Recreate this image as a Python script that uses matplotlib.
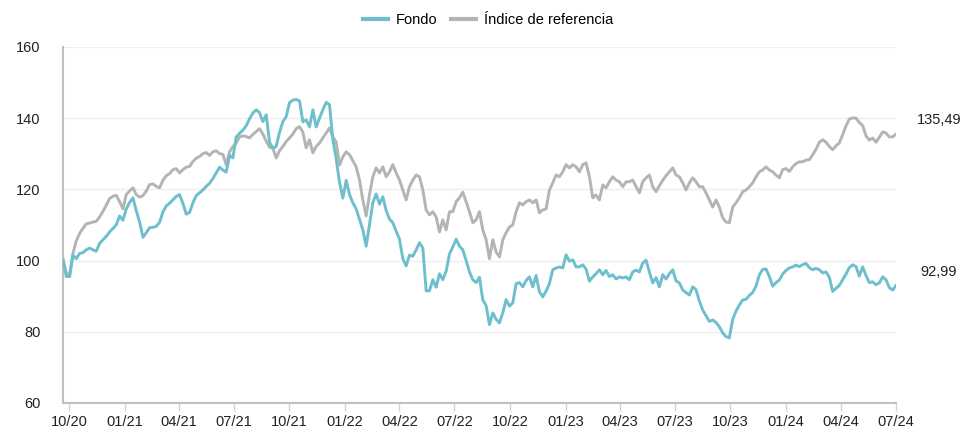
import matplotlib
matplotlib.use("Agg")
import matplotlib.pyplot as plt
import matplotlib.dates as mdates
import numpy as np
import pandas as pd

plt.rcParams['font.family'] = ['Liberation Sans', 'DejaVu Sans']

# Series names
series_names = ["Fondo", "Índice de referencia"]

# Evenly spaced observations between first and last date
start_date = "2020-09-21"
end_date = "2024-07-01"

# Fondo (base 100)
fondo = [
    100.2, 95.5, 95.5, 101.5, 100.5, 102, 102.2, 103, 103.5, 103,
    102.6, 104.8, 105.8, 106.8, 108, 109, 110, 112.5, 111.3, 114.5,
    116.3, 117.6, 114, 110.8, 106.5, 107.8, 109.2, 109.3, 109.6, 110.7,
    113.6, 115.3, 116.1, 117, 118, 118.5, 116, 113, 113.5, 116.2,
    118.2, 119, 119.8, 120.8, 121.7, 123, 124.6, 126.2, 125.4, 124.8,
    129.5, 128.8, 134.7, 135.7, 136.6, 137.8, 139.8, 141.4, 142.3, 141.5,
    139, 140.9, 133.2, 131.5, 132, 136, 139, 140.4, 144.3, 145,
    145.2, 144.8, 138.9, 139.5, 137.5, 142.3, 137.5, 140, 142.3, 144.4,
    143.7, 133.9, 128.5, 122, 117.5, 122.5, 118.5, 116.2, 114.5, 111.6,
    108.6, 104, 110, 116.2, 118.7, 115.8, 117.9, 114, 111.6, 110.6,
    108.2, 106, 100.5, 98.5, 101.5, 101.2, 103, 105, 103.5, 91.5,
    91.5, 94.6, 92.5, 96.3, 94.6, 97, 101.8, 103.8, 106, 104,
    103, 100, 96.8, 94.6, 93.8, 95.3, 89, 87.3, 82, 85.3,
    83.5, 82.5, 85.3, 89, 87.2, 88.1, 93.5, 93.8, 92.6, 94.4,
    95.4, 92.6, 95.8, 91.2, 89.8, 91.4, 93.5, 97.4, 97.9, 98.2,
    97.9, 101.6, 99.8, 100.2, 98.2, 98.2, 98.8, 97.6, 94.2, 95.4,
    96.3, 97.4, 96, 97.2, 95.5, 96, 94.8, 95.4, 95.1, 95.4,
    94.6, 96.8, 97.3, 96.8, 99.3, 100.1, 96.8, 93.7, 95.2, 92.6,
    96, 94.8, 96.3, 97.4, 94.3, 93.7, 91.7, 91, 90.3, 92.6,
    91.8, 88.6, 86.1, 84.5, 82.9, 83.3, 82.6, 81.4, 79.7, 78.6,
    78.3, 83.5, 85.8, 87.5, 88.9, 89.1, 90.2, 91, 92.8, 96,
    97.5, 97.6, 95.5, 92.8, 93.8, 94.5, 96.2, 97.2, 97.9, 98.2,
    98.7, 98.3, 98.8, 99.2, 98, 97.4, 97.8, 97.4, 96.5, 96.8,
    95.3, 91.3, 92.2, 93, 94.6, 96.2, 98, 98.8, 98.3, 95.6,
    98.2, 95.8, 93.8, 94, 93.2, 93.7, 95.4, 94.6, 92.4, 91.7,
    92.99,
]

# Indice de referencia
indice = [
    100.5, 96.5, 96, 102, 105.5, 107.6, 109, 110.3, 110.5, 110.8,
    111, 112.2, 113.8, 115.5, 117.4, 118, 118.3, 116.5, 114.5, 118.5,
    119.5, 120.4, 118.5, 117.8, 118.2, 119.5, 121.3, 121.5, 120.8, 120.4,
    122.5, 123.8, 124.4, 125.5, 125.8, 124.6, 125.5, 126.2, 126.4, 127.8,
    128.7, 129.2, 130, 130.3, 129.5, 130.5, 130.8, 130, 129.8, 126.8,
    130.5, 132, 133, 134.7, 135, 134.8, 134.4, 135.4, 136.2, 137,
    135.5, 133.5, 131.8, 131.5, 128.8, 130.8, 132, 133.4, 134.4, 135.5,
    137, 137.6, 136, 131.6, 133.9, 130.2, 132, 133, 134.4, 135.8,
    137.2, 134.7, 133.3, 126.8, 129.1, 130.5, 129.7, 128, 126.3, 122.6,
    117, 112.5, 118.5, 123.5, 126, 124.6, 126.3, 123.5, 124.9, 126.9,
    124.6, 122.6, 119.8, 117, 120.7, 122.6, 124, 123.5, 119.8, 114.2,
    112.8, 113.7, 112.2, 108, 111.4, 108.6, 113.7, 113.7, 116.5, 117.6,
    119.2, 116.5, 113.7, 110.6, 111.4, 113.7, 108.6, 105.8, 100.5, 105.8,
    102.4, 101, 105.8, 107.8, 109.4, 110, 113.7, 116.2, 115.6, 116.5,
    117, 116.2, 117, 113.4, 114.2, 114.5, 119.8, 121.8, 124, 123.5,
    124.9, 126.9, 126, 126.9, 126.3, 124.9, 126.9, 127.4, 123.5, 117.6,
    118.4, 117, 121.2, 120.4, 122.1, 123.5, 122.6, 122.1, 120.7, 122.1,
    122.1, 122.6, 120.7, 119, 122.1, 123.2, 124, 120.7, 119.3, 121,
    122.5, 123.8, 124.9, 126, 124, 123.5, 121.8, 119.8, 121.8, 123.2,
    122.1, 120.7, 120.7, 119, 117, 115, 117, 115, 112, 110.8,
    110.6, 115, 116.2, 117.6, 119.3, 119.8, 120.7, 121.8, 123.5, 124.9,
    125.4, 126.3, 125.4, 124.9, 124, 123.2, 125.5, 125.8, 125, 126.3,
    127.2, 127.7, 127.7, 128.2, 128.3, 129.7, 131.2, 133.2, 133.9, 133.2,
    132, 131.1, 132.2, 133, 135.3, 137.8, 139.7, 140, 140, 138.7,
    137.9, 135, 133.8, 134.4, 133.2, 134.6, 136.1, 135.8, 134.7, 134.7,
    135.49,
]

y_ticks = [60, 80, 100, 120, 140, 160]

dates = pd.date_range(start_date, end_date, periods=len(fondo))

fig = plt.figure(figsize=(9.76, 4.33), dpi=100)
ax = fig.add_axes([0.0645, 0.0693, 0.8535, 0.8227])

blue = "#6ebfcd"
grey = "#b4b4b4"

ax.plot(dates, fondo, color=blue, lw=2.1, label=series_names[0], zorder=3)
ax.plot(dates, indice, color=grey, lw=2.1, label=series_names[1], zorder=2)

ax.set_xlim(dates[0], dates[-1])
ax.set_ylim(60, 160)
ax.set_yticks(y_ticks)
ax.set_yticklabels([str(v) for v in y_ticks], fontsize=10.5, color="#222222")
ax.tick_params(axis="y", length=0, pad=16)

ax.xaxis.set_major_locator(mdates.MonthLocator(bymonth=[1, 4, 7, 10]))
ax.xaxis.set_major_formatter(mdates.DateFormatter("%m/%y"))
ax.tick_params(axis="x", length=6, width=1, color="#ccd6eb",
               labelsize=10.5, labelcolor="#222222", pad=3)

# grid
ax.grid(axis="y", color="#efefef", lw=1)
ax.set_axisbelow(True)
for side in ["top", "right"]:
    ax.spines[side].set_visible(False)
ax.spines["left"].set_color("#c0c0c0")
ax.spines["left"].set_linewidth(1.5)
ax.spines["bottom"].set_color("#c0c0c0")
ax.spines["bottom"].set_linewidth(1.5)

# last values at the right
for vals in [indice, fondo]:
    ax.annotate(f"{vals[-1]:.2f}".replace(".", ","), xy=(dates[-1], vals[-1]),
                xytext=(31, 10), textcoords="offset points",
                ha="center", va="center", fontsize=10.5, color="#222222",
                annotation_clip=False)

fig.legend(loc="upper center", bbox_to_anchor=(0.5, 1.0), ncol=2,
           frameon=False, fontsize=10.5, handlelength=1.7, handletextpad=0.5,
           columnspacing=1.0)
for line in fig.legends[0].get_lines():
    line.set_linewidth(3)

fig.savefig("out.png", dpi=100)
